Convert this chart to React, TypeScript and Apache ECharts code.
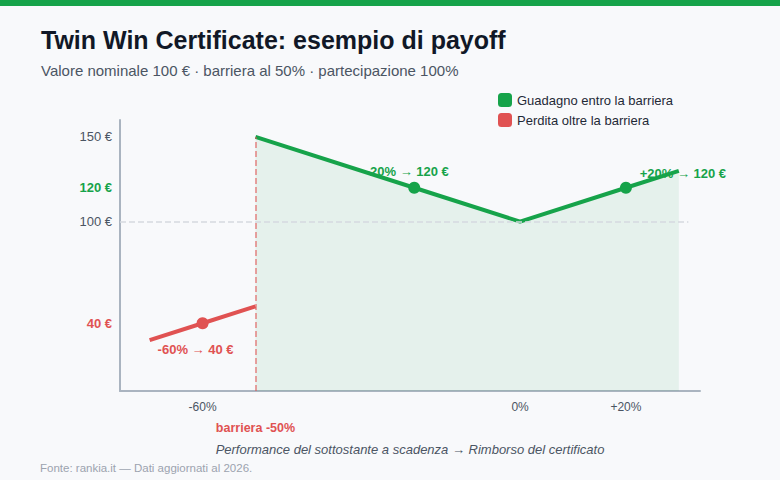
import React, { useEffect, useRef } from "react";
import * as echarts from "echarts";

const GREEN = "#16a34a";
const RED = "#e05252";

const gainSeries: [number, number][] = [
  [-50, 150],
  [-20, 120],
  [0, 100],
  [20, 120],
  [30, 130],
];
const lossSeries: [number, number][] = [
  [-70, 30],
  [-60, 40],
  [-50, 50],
];
const gainPoints: [number, number][] = [
  [-20, 120],
  [20, 120],
];
const lossPoints: [number, number][] = [[-60, 40]];
const xTicks = [-60, -50, 0, 20];
const yTicks = [40, 100, 120, 150];
const barrier = -50;
const nominal = 100;

const FONT = "'Liberation Sans', Arial, Helvetica, sans-serif";

export default function App() {
  const ref = useRef<HTMLDivElement>(null);
  useEffect(() => {
    document.body.style.margin = "0";
    const chart = echarts.init(ref.current!, null, { renderer: "svg" });
    const pct = (v: number) => (v > 0 ? `+${v}%` : `${v}%`);
    chart.setOption({
      animation: false,
      backgroundColor: "#f8f9fb",
      textStyle: { fontFamily: FONT },
      title: [
        {
          text: "Twin Win Certificate: esempio di payoff",
          left: 41,
          top: 27,
          padding: 0,
          textStyle: { fontSize: 25, fontWeight: "bold", color: "#111827", fontFamily: FONT },
        },
        {
          text: "Valore nominale 100 € · barriera al 50% · partecipazione 100%",
          left: 41,
          top: 63,
          padding: 0,
          textStyle: { fontSize: 15, fontWeight: "normal", color: "#4b5563", fontFamily: FONT },
        },
        {
          text: "Fonte: rankia.it — Dati aggiornati al 2026.",
          left: 40,
          top: 462,
          padding: 0,
          textStyle: { fontSize: 11.5, fontWeight: "normal", color: "#9ca3af", fontFamily: FONT },
        },
      ],
      graphic: [
        { type: "rect", left: 0, top: 0, shape: { width: 780, height: 6 }, style: { fill: GREEN } },
      ],
      legend: {
        orient: "vertical",
        left: 493,
        top: 88,
        itemWidth: 14,
        itemHeight: 14,
        itemGap: 6,
        icon: "roundRect",
        textStyle: { fontSize: 13, color: "#1f2937", fontFamily: FONT },
        data: [
          { name: "Guadagno entro la barriera", itemStyle: { color: GREEN } },
          { name: "Perdita oltre la barriera", itemStyle: { color: RED } },
        ],
      },
      grid: { left: 120, right: 80, top: 120, bottom: 89 },
      xAxis: {
        type: "value",
        min: -75.6,
        max: 34,
        splitLine: { show: false },
        axisLine: { show: true, onZero: false, lineStyle: { color: "#aab4c0", width: 2 } },
        axisTick: { show: false },
        axisLabel: {
          customValues: xTicks,
          margin: 10,
          color: "#4b5563",
          fontSize: 12,
          fontFamily: FONT,
          formatter: (v: number) => (v === barrier ? `{b|barriera ${v}%}` : pct(v)),
          rich: {
            b: { color: RED, fontWeight: "bold", fontSize: 12.5, padding: [20, 0, 0, 0], fontFamily: FONT },
          },
        },
        name: "Performance del sottostante a scadenza → Rimborso del certificato",
        nameLocation: "middle",
        nameGap: 52,
        nameMoveOverlap: false,
        nameTextStyle: { fontStyle: "italic", color: "#4b5563", fontSize: 13, fontFamily: FONT },
      },
      yAxis: {
        type: "value",
        min: 0,
        max: 160,
        splitLine: { show: false },
        axisLine: { show: true, onZero: false, lineStyle: { color: "#aab4c0", width: 2 } },
        axisTick: { show: false },
        axisLabel: {
          customValues: yTicks,
          margin: 8,
          fontSize: 13,
          color: "#4b5563",
          fontFamily: FONT,
          formatter: (v: number) =>
            v === 120 ? `{g|${v} €}` : v === 40 ? `{r|${v} €}` : `${v} €`,
          rich: {
            g: { color: GREEN, fontWeight: "bold", fontSize: 13, fontFamily: FONT },
            r: { color: RED, fontWeight: "bold", fontSize: 13, fontFamily: FONT },
          },
        },
      },
      series: [
        {
          name: "Guadagno entro la barriera",
          type: "line",
          data: gainSeries,
          showSymbol: false,
          symbol: "none",
          color: GREEN,
          lineStyle: { color: GREEN, width: 4 },
          areaStyle: { color: "rgba(22,163,74,0.12)" },
          z: 3,
          markLine: {
            silent: true,
            symbol: "none",
            label: { show: false },
            lineStyle: { type: "dashed", color: "#d5d9df", width: 1.5 },
            data: [[{ coord: [-75.6, nominal] }, { coord: [31.8, nominal] }]],
          },
        },
        {
          name: "Perdita oltre la barriera",
          type: "line",
          data: lossSeries,
          showSymbol: false,
          symbol: "none",
          color: RED,
          lineStyle: { color: RED, width: 4 },
          z: 3,
          markLine: {
            silent: true,
            symbol: "none",
            label: { show: false },
            lineStyle: { type: "dashed", color: "rgba(224,82,82,0.7)", width: 1.5 },
            data: [[{ coord: [barrier, 0] }, { coord: [barrier, gainSeries[0][1]] }]],
          },
        },
        {
          name: "gainPts",
          type: "scatter",
          data: gainPoints,
          symbolSize: 12,
          itemStyle: { color: GREEN, opacity: 1 },
          z: 4,
          label: {
            show: true,
            color: GREEN,
            opacity: 1,
            fontWeight: "bold",
            fontSize: 13,
            fontFamily: FONT,
            formatter: (p: any) => `${pct(p.value[0])} → ${p.value[1]} €`,
          },
          labelLayout: (p: any) =>
            p.dataIndex === 0 ? { dx: -7, dy: -16 } : { dx: 57, dy: -14 },
        },
        {
          name: "lossPts",
          type: "scatter",
          data: lossPoints,
          symbolSize: 12,
          itemStyle: { color: RED, opacity: 1 },
          z: 4,
          label: {
            show: true,
            color: RED,
            opacity: 1,
            fontWeight: "bold",
            fontSize: 13,
            fontFamily: FONT,
            formatter: (p: any) => `${pct(p.value[0])} → ${p.value[1]} €`,
          },
          labelLayout: () => ({ dx: -7, dy: 26 }),
        },
      ],
    });
    return () => chart.dispose();
  }, []);
  return <div ref={ref} style={{ width: 780, height: 480 }} />;
}
